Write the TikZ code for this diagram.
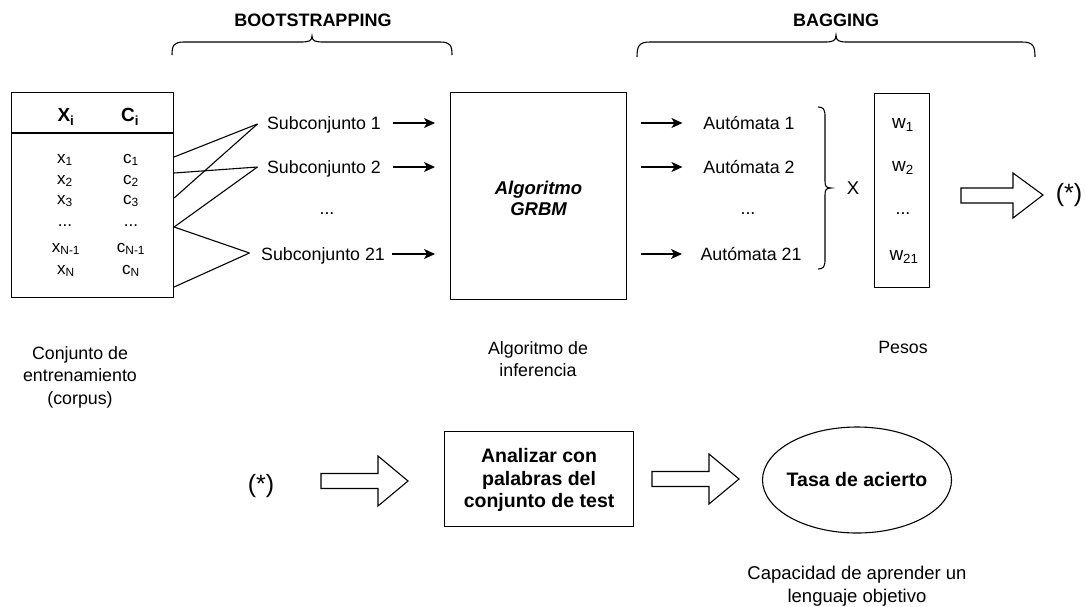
\documentclass[tikz,border=0pt]{standalone}
\usepackage{fontspec}
\setmainfont{Liberation Sans}
\usetikzlibrary{arrows.meta,shapes.geometric}

\begin{document}
\begin{tikzpicture}[x=1pt,y=-1pt,line width=1.1pt,
  txt/.style={inner sep=0pt,align=center,font=\fontsize{17.8}{22.5}\selectfont},
  rowtxt/.style={txt,text height=13pt,text depth=0pt},
  sub/.style={rowtxt,minimum width=124pt},
  aut/.style={rowtxt,minimum width=100pt},
  cell/.style={inner sep=0pt,font=\fontsize{17}{20}\selectfont},
  head/.style={inner sep=0pt,font=\fontsize{19}{22}\selectfont\bfseries},
  boldtxt/.style={inner sep=0pt,align=center,font=\fontsize{19.5}{22.5}\selectfont\bfseries},
  star/.style={inner sep=0pt,font=\fontsize{25}{28}\selectfont},
  box/.style={draw,inner sep=0pt,anchor=north west},
  arr/.style={-{Stealth[length=11pt,width=10pt,inset=3pt]}},
  fat/.style={draw,line join=miter,fill=white}
]
\useasboundingbox (0,0) rectangle (1086,606);

% ---------- training set table ----------
\node[box,minimum width=162pt,minimum height=205pt] (tab) at (11,92) {};
\draw (tab.north west) ++(0,41) coordinate (hl) -- (hl -| tab.east);
\node[head] (hx) at (66,117) {X\textsubscript{i}};
\node[head] (hc) at (130,117) {C\textsubscript{i}};
\node[cell] (x1) at (65,160) {x\textsubscript{1}};
\node[cell] (c1) at (131,160) {c\textsubscript{1}};
\node[cell] (x2) at (65,181) {x\textsubscript{2}};
\node[cell] (c2) at (131,181) {c\textsubscript{2}};
\node[cell] (x3) at (65,201) {x\textsubscript{3}};
\node[cell] (c3) at (131,201) {c\textsubscript{3}};
\node[cell] (xd) at (65,226) {...};
\node[cell] (cd) at (131,226) {...};
\node[cell] (xn1) at (66,249) {x\textsubscript{N-1}};
\node[cell] (cn1) at (131,249) {c\textsubscript{N-1}};
\node[cell] (xn) at (66,271) {x\textsubscript{N}};
\node[cell] (cn) at (131,271) {c\textsubscript{N}};

% ---------- subsets ----------
\node[sub] (s1) at (324,123) {Subconjunto 1};
\node[sub] (s2) at (324,167) {Subconjunto 2};
\node[txt] (sd) at (327,214) {...};
\node[sub] (s21) at (323,254) {Subconjunto 21};

% fan from the table rows to the subsets
\path (tab.north east) ++(0,65) coordinate (t1);
\path (tab.north east) ++(0,81) coordinate (t2);
\path (tab.north east) ++(0,106) coordinate (t3);
\path (tab.north east) ++(0,135) coordinate (t4);
\path (tab.north east) ++(0,195) coordinate (t5);
\path (s1.west) ++(-4,1) coordinate (f1);
\path (s2.west) ++(-4,0) coordinate (f2);
\path (s21.west) ++(-11,-1) coordinate (f21);
\draw (t1) -- (f1);
\draw (t3) -- (f1);
\draw (t2) -- (f2);
\draw (t4) -- (f2);
\draw (t4) -- (f21);
\draw (t5) -- (f21);

% ---------- inference algorithm ----------
\node[box,minimum width=176pt,minimum height=207pt] (grbm) at (450,92) {};
\node[boldtxt,font=\fontsize{18.5}{21}\selectfont\bfseries\itshape] (grbmtxt) at ([yshift=-2pt]grbm.center) {Algoritmo\\GRBM};

\draw[arr,shorten <=6pt,shorten >=15pt] (s1.east) -- (s1.east -| grbm.west);
\draw[arr,shorten <=6pt,shorten >=15pt] (s2.east) -- (s2.east -| grbm.west);
\draw[arr,shorten <=6pt,shorten >=15pt] (s21.east) -- (s21.east -| grbm.west);

% ---------- automata ----------
\node[aut] (a1) at (749,123) {Autómata 1};
\node[aut] (a2) at (749,167) {Autómata 2};
\node[txt] (ad) at (748,214) {...};
\node[aut] (a21) at (751,254) {Autómata 21};

\draw[arr,shorten <=14pt,shorten >=16pt] (a1.west -| grbm.east) -- (a1.west);
\draw[arr,shorten <=14pt,shorten >=16pt] (a2.west -| grbm.east) -- (a2.west);
\draw[arr,shorten <=14pt,shorten >=18pt] (a21.west -| grbm.east) -- (a21.west);

% brace grouping the automata
\draw (818,107) .. controls (823,107) and (825,109) .. (825,116) -- (825,181)
      .. controls (825,186) and (826,188) .. (831,188)
      .. controls (826,188) and (825,190) .. (825,195) -- (825,260)
      .. controls (825,267) and (823,269) .. (818,269);

\node[txt,font=\fontsize{18.5}{20}\selectfont] (mult) at (853,188) {X};

% ---------- weights ----------
\node[box,minimum width=55pt,minimum height=194pt] (wbox) at (874,93) {};
\node[txt,font=\fontsize{19}{22}\selectfont] (w1) at (903,125) {w\textsubscript{1}};
\node[txt,font=\fontsize{19}{22}\selectfont] (w2) at (903,168) {w\textsubscript{2}};
\node[txt] (wd) at (903,214) {...};
\node[txt,font=\fontsize{19}{22}\selectfont] (w21) at (904,257) {w\textsubscript{21}};

% hollow arrow to the continuation mark
\draw[fat] (961,188) -- (1013,188) -- (1013,173) -- (1043,195) -- (1013,218)
      -- (1013,203) -- (961,203) -- cycle;
\node[star] (cont1) at (1069,195) {(*)};

% ---------- section braces ----------
\draw (172,55) .. controls (172,45) and (174,42) .. (184,42) -- (300,42)
      .. controls (309,42) and (312,41) .. (312,36)
      .. controls (312,41) and (315,42) .. (324,42) -- (440,42)
      .. controls (450,42) and (452,45) .. (452,55);
\node[txt,font=\fontsize{18}{20}\selectfont\bfseries] (boot) at (313,20) {BOOTSTRAPPING};

\draw (637,57) .. controls (637,46) and (639,42) .. (650,42) -- (824,42)
      .. controls (833,42) and (836,41) .. (836,35)
      .. controls (836,41) and (839,42) .. (848,42) -- (1022,42)
      .. controls (1033,42) and (1035,46) .. (1035,57);
\node[txt,font=\fontsize{18}{20}\selectfont\bfseries] (bag) at (836,20) {BAGGING};

% ---------- captions ----------
\node[txt] (corpus) at (80,377) {Conjunto de\\entrenamiento\\(corpus)};
\node[txt] (infer) at (538,359) {Algoritmo de\\inferencia};
\node[txt] (pesos) at (903,347) {Pesos};

% ---------- evaluation row ----------
\node[star] (cont2) at (261,486) {(*)};
\draw[fat] (321,473.5) -- (378,473.5) -- (378,456) -- (408,481) -- (378,506)
      -- (378,488.5) -- (321,488.5) -- cycle;

\node[box,minimum width=189pt,minimum height=95pt] (ana) at (444,431) {};
\node[boldtxt] (anatxt) at ([yshift=-1pt]ana.center) {Analizar con\\palabras del\\conjunto de test};

\draw[fat] (652,471.5) -- (709,471.5) -- (709,454) -- (739,479) -- (709,504)
      -- (709,486.5) -- (652,486.5) -- cycle;

\node[draw,ellipse,minimum width=189pt,minimum height=106pt,inner sep=0pt] (tasa) at (857,480) {};
\node[boldtxt] (tasatxt) at (tasa.center) {Tasa de acierto};

\node[txt,font=\fontsize{18.5}{22.5}\selectfont] (capac) at (857,586) {Capacidad de aprender un\\lenguaje objetivo};
\end{tikzpicture}
\end{document}
